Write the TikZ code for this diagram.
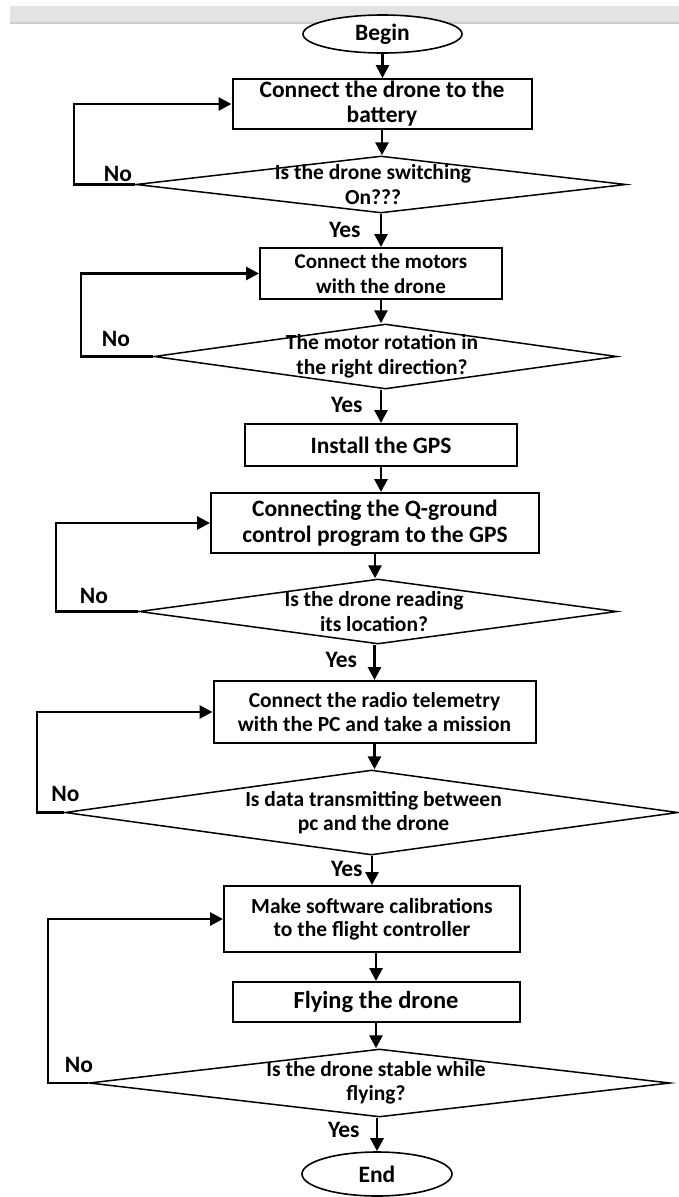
\documentclass[tikz,border=0pt]{standalone}
\usepackage{fontspec}
\setmainfont{Carlito}
\usetikzlibrary{arrows.meta}
\usetikzlibrary{shapes.geometric}
\usetikzlibrary{positioning}
\newcommand{\stepfont}[2]{\fontsize{#1}{#2}\selectfont\bfseries}
\tikzset{stepbox/.style = {draw, rectangle, line width = 2pt, fill = white,
                           inner sep = 0, align = center}}
\tikzset{decision/.style = {draw, diamond, line width = 1.5pt, fill = white, inner sep = 0}}
\tikzset{asktext/.style = {inner sep = 0, align = center, font = {\stepfont{21.5}{24.5}}}}
\tikzset{terminal/.style = {draw, ellipse, line width = 1.6pt, fill = white, inner sep = 0,
                            font = {\stepfont{23.5}{25}}}}
\tikzset{flow/.style = {line width = 2.9pt, -{Triangle[length = 13pt, width = 13pt]}}}
\tikzset{ans/.style = {inner sep = 0, font = {\stepfont{23.5}{25}}}}
\definecolor{bandgray}{rgb}{0.89, 0.89, 0.89}
\definecolor{bandline}{rgb}{0.80, 0.80, 0.80}

\begin{document}
\begin{tikzpicture}[x = 1pt, y = -1pt]
      \useasboundingbox (0, 0) rectangle (679, 1197);
      \fill [white] (0, 0) rectangle (679, 1197);
      \fill [bandgray] (10, 6) rectangle (679, 23);
      \draw [bandline, line width = 1.2pt] (10, 23) -- (679, 23);

      % steps and questions
      \node [terminal, minimum width = 159pt, minimum height = 38pt] (begin) at (382.5, 34) {Begin};
      \node [stepbox, minimum width = 299pt, minimum height = 50pt, font = {\stepfont{23.5}{25}}]
            (battery) at (382, 104) {Connect the drone to the\\battery};
      \node [decision, minimum width = 490pt, minimum height = 57pt] (switch) at (381, 184.5) {};
      \node [asktext] (switchq) at ([xshift = -8pt] switch.center) {Is the drone switching\\On???};

      \node [stepbox, minimum width = 242pt, minimum height = 51pt, font = {\stepfont{21}{25}}]
            (motors) at (381, 273.5) {Connect the motors\\with the drone};
      \node [decision, minimum width = 463pt, minimum height = 65pt] (rotation) at (385.5, 356.5) {};
      \node [asktext] (rotationq) at ([xshift = -3.5pt] rotation.center) {The motor rotation in\\the right direction?};

      \node [stepbox, minimum width = 272pt, minimum height = 42pt, font = {\stepfont{23.5}{25}}]
            (gps) at (381, 445) {Install the GPS};

      \node [stepbox, minimum width = 328pt, minimum height = 60pt, font = {\stepfont{23.5}{26.5}}]
            (qgc) at (375, 523) {Connecting the Q-ground\\control program to the GPS};
      \node [decision, minimum width = 478pt, minimum height = 65pt] (reading) at (378, 611.5) {};
      \node [asktext] (readingq) at ([xshift = -4pt] reading.center) {Is the drone reading\\its location?};

      \node [stepbox, minimum width = 322pt, minimum height = 62pt, font = {\stepfont{21.5}{24}}]
            (radio) at (374.5, 712) {Connect the radio telemetry\\with the PC and take a mission};
      \node [decision, minimum width = 613pt, minimum height = 85pt] (transmit) at (371.5, 812.5) {};
      \node [asktext] (transmitq) at ([xshift = 2pt] transmit.center) {Is data transmitting between\\pc and the drone};

      \node [stepbox, minimum width = 296pt, minimum height = 66pt, font = {\stepfont{21.5}{23.5}}]
            (calib) at (372, 919) {Make software calibrations\\to the flight controller};
      \node [stepbox, minimum width = 287pt, minimum height = 40pt, font = {\stepfont{24.5}{25}}]
            (flying) at (376, 1002) {Flying the drone};
      \node [decision, minimum width = 581pt, minimum height = 68pt] (stable) at (379.5, 1083) {};
      \node [asktext] (stableq) at ([xshift = -3.5pt] stable.center) {Is the drone stable while\\flying?};
      \node [terminal, minimum width = 150pt, minimum height = 44pt] (end) at (377, 1174) {End};

      % main flow
      \draw [flow] (begin.south) -- (begin.south |- battery.north);
      \draw [flow] (battery.south) -- (battery.south |- switch.north);
      \draw [flow] (motors.north |- switch.south) -- node [ans, left = 19pt, pos = .48] (yesa) {Yes} (motors.north);
      \draw [flow] (motors.south) -- (motors.south |- rotation.north);
      \draw [flow] (gps.north |- rotation.south) -- node [ans, left = 17pt, pos = .46] (yesb) {Yes} (gps.north);
      \draw [flow] (gps.south) -- (gps.south |- qgc.north);
      \draw [flow] (qgc.south) -- (qgc.south |- reading.north);
      \draw [flow] (radio.north |- reading.south) -- node [ans, left = 16pt, pos = .42] (yesc) {Yes} (radio.north);
      \draw [flow] (radio.south) -- (radio.south |- transmit.north);
      \draw [flow] (calib.north |- transmit.south) -- node [ans, left = 8pt, pos = .45] (yesd) {Yes} (calib.north);
      \draw [flow] (flying.north |- calib.south) -- (flying.north);
      \draw [flow] (flying.south) -- (flying.south |- stable.north);
      \draw [flow] (end.north |- stable.south) -- node [ans, left = 16pt, pos = .37] (yese) {Yes} (end.north);

      % back loops
      \coordinate (backa) at (74, 0);
      \coordinate (backb) at (81, 0);
      \coordinate (backc) at (56, 0);
      \coordinate (backd) at (37, 0);
      \coordinate (backe) at (48, 0);
      \draw [flow] (switch.west) -- (switch.west -| backa) |- (battery.west);
      \draw [flow] (rotation.west) -- (rotation.west -| backb) |- (motors.west);
      \draw [flow] (reading.west) -- (reading.west -| backc) |- (qgc.west);
      \draw [flow] (transmit.west) -- (transmit.west -| backd) |- (radio.west);
      \draw [flow] (stable.west) -- (stable.west -| backe) |- (calib.west);

      \node [ans] (noa) at (118, 174) {No};
      \node [ans] (nob) at (116, 339) {No};
      \node [ans] (noc) at (94, 596) {No};
      \node [ans] (nod) at (65.5, 794) {No};
      \node [ans] (noe) at (79, 1065) {No};
    \end{tikzpicture}
\end{document}
